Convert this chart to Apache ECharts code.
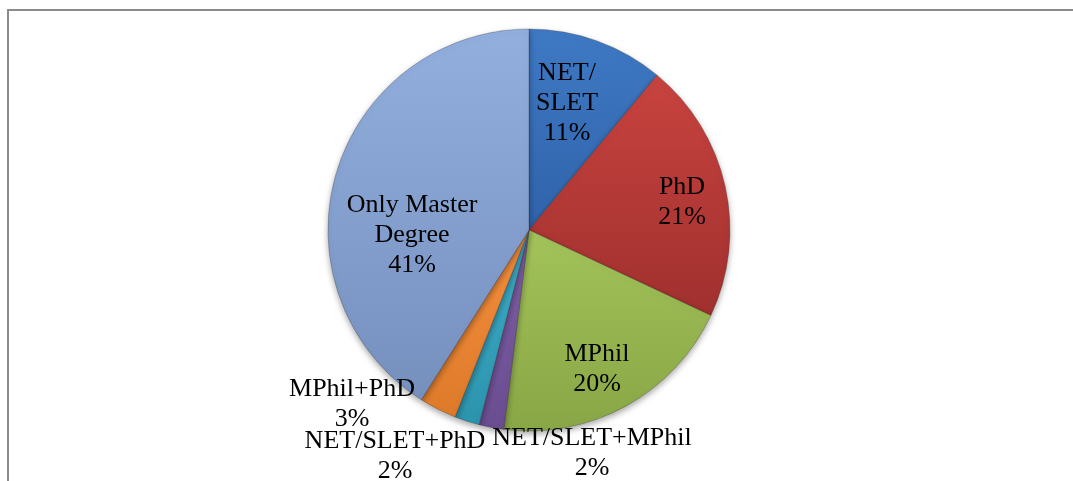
<!DOCTYPE html>
<html>
<head>
<meta charset="utf-8">
<script src="https://cdn.jsdelivr.net/npm/echarts@6/dist/echarts.min.js"></script>
<style>
html,body{margin:0;padding:0;background:#fff;}
#chart{width:1073px;height:481px;}
</style>
</head>
<body>
<div id="chart"></div>
<script>
// Data
var categories = ['NET/SLET', 'PhD', 'MPhil', 'NET/SLET+MPhil', 'NET/SLET+PhD', 'MPhil+PhD', 'Only Master Degree'];
var labelNames = ['NET/\nSLET', 'PhD', 'MPhil', 'NET/SLET+MPhil', 'NET/SLET+PhD', 'MPhil+PhD', 'Only Master\nDegree'];
var values = [11, 21, 20, 2, 2, 3, 41];

// Styles
var colorsTop = ['#3F79C4', '#C8433F', '#A3C35A', '#7F61A6', '#3FAECA', '#F58F3E', '#92AFDE'];
var colorsBottom = ['#2F63AA', '#A0302E', '#88A645', '#6A4C90', '#2C93AC', '#DD7A2A', '#7690BE'];
var labelPos = [[567, 103], [682, 202], [597, 369], [592, 453], [395, 456], [352, 404], [412, 235]];

var chart = echarts.init(document.getElementById('chart'));
var data = categories.map(function (c, i) {
  return {
    name: c,
    value: values[i],
    itemStyle: {
      color: {
        type: 'linear', x: 0, y: 0, x2: 0, y2: 1,
        colorStops: [{offset: 0, color: colorsTop[i]}, {offset: 1, color: colorsBottom[i]}]
      }
    }
  };
});

chart.setOption({
  animation: false,
  graphic: [{
    type: 'rect',
    shape: {x: 8, y: 10, width: 1200, height: 600},
    style: {fill: 'none', stroke: '#8c8c8c', lineWidth: 2},
    silent: true
  }],
  series: [{
    type: 'pie',
    center: [529, 230],
    radius: [0, 201],
    startAngle: 90,
    clockwise: true,
    data: data,
    itemStyle: {
      borderColor: 'rgba(40,40,40,0.35)',
      borderWidth: 0.8,
      shadowBlur: 6,
      shadowColor: 'rgba(0,0,0,0.35)',
      shadowOffsetY: 3
    },
    label: {
      show: true,
      position: 'inside',
      color: '#000',
      fontFamily: 'Liberation Serif',
      fontSize: 26,
      lineHeight: 30,
      align: 'center',
      formatter: function (p) {
        return labelNames[p.dataIndex] + '\n' + p.percent + '%';
      }
    },
    labelLine: {show: false},
    labelLayout: function (p) {
      var pos = labelPos[p.dataIndex];
      return {x: pos[0], y: pos[1], align: 'center', verticalAlign: 'middle'};
    },
    emphasis: {disabled: true}
  }]
});
</script>
</body>
</html>
